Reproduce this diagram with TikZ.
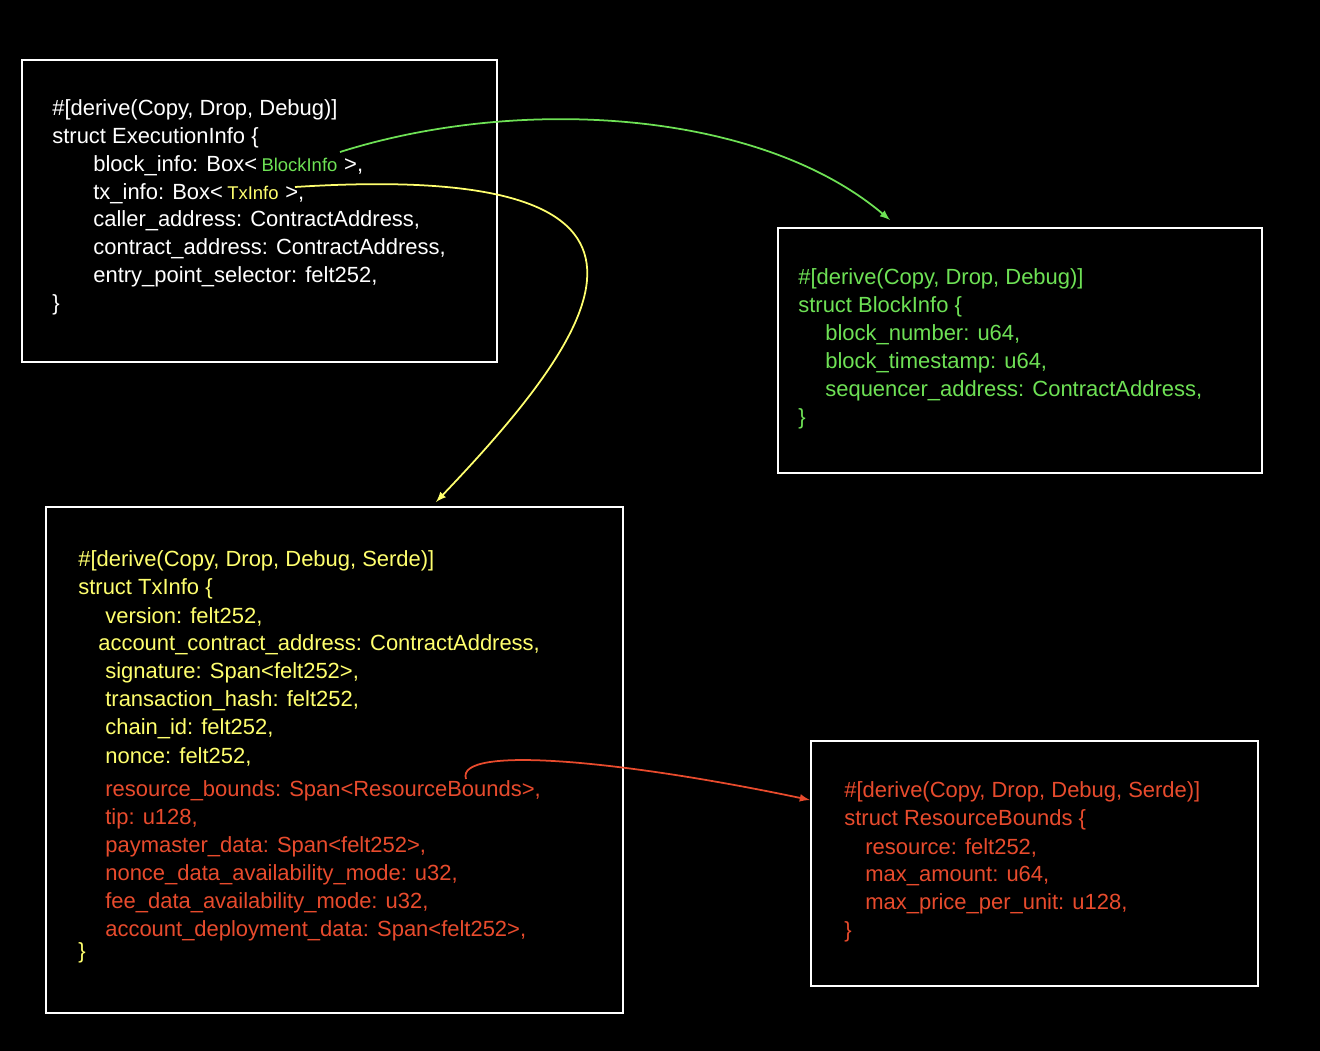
\documentclass[tikz,border=0pt]{standalone}
\usepackage{fontspec}
\setmainfont{Liberation Sans}
\usetikzlibrary{positioning}
\definecolor{codegreen}{RGB}{110,225,85}
\definecolor{codeyellow}{RGB}{255,255,110}
\definecolor{codered}{RGB}{232,75,45}
\begin{document}
\begin{tikzpicture}
	[x=0.02cm,y=-0.02cm,
	 %Styles
	 struct_box/.style={draw=white,line width=1.3pt},
	 code/.style={anchor=west,inner sep=0pt,font=\fontsize{12.5}{15}\selectfont},
	 tag/.style={anchor=base west,inner sep=0pt,font=\fontsize{10.5}{13}\selectfont},
	 link/.style={->,>=latex,line width=1pt}
	]
	\fill[black] (0,0) rectangle (1320,1051);

	%Boxes
	\draw[struct_box] (22,60) rectangle (497,362);
	\draw[struct_box] (778,228) rectangle (1262,473);
	\draw[struct_box] (46,507) rectangle (623,1013);
	\draw[struct_box] (811,741) rectangle (1258,986);

	%ExecutionInfo
	\begin{scope}[every node/.style={code,white}]
	\node (e1) at (52,110) {\#[derive(Copy, Drop, Debug)]};
	\node (e2) at (52,138) {struct ExecutionInfo \{};
	\node (e3) at (93,166) {block\_info: Box<\,};
	\node (e4) at (93,194) {tx\_info: Box<\,};
	\node (e5) at (93,221) {caller\_address: ContractAddress,};
	\node (e6) at (93,249) {contract\_address: ContractAddress,};
	\node (e7) at (93,277) {entry\_point\_selector: felt252,};
	\node (e8) at (52,305) {\}};
	\end{scope}
	\node (bi) [tag,codegreen] at (e3.base east) {BlockInfo};
	\node (bi_end) [tag,white,font=\fontsize{12.5}{15}\selectfont] at (bi.base east) {\ >,};
	\node (ti) [tag,codeyellow] at (e4.base east) {TxInfo};
	\node (ti_end) [tag,white,font=\fontsize{12.5}{15}\selectfont] at (ti.base east) {\ >,};

	%BlockInfo
	\begin{scope}[every node/.style={code,codegreen}]
	\node (b1) at (798,279) {\#[derive(Copy, Drop, Debug)]};
	\node (b2) at (798,307) {struct BlockInfo \{};
	\node (b3) at (825,335) {block\_number: u64,};
	\node (b4) at (825,363) {block\_timestamp: u64,};
	\node (b5) at (825,391) {sequencer\_address: ContractAddress,};
	\node (b6) at (798,419) {\}};
	\end{scope}

	%TxInfo
	\begin{scope}[every node/.style={code,codeyellow}]
	\node (t1) at (78,561) {\#[derive(Copy, Drop, Debug, Serde)]};
	\node (t2) at (78,589) {struct TxInfo \{};
	\node (t3) at (105,617) {version: felt252,};
	\node (t4) at (98,645) {account\_contract\_address: ContractAddress,};
	\node (t5) at (105,673) {signature: Span<felt252>,};
	\node (t6) at (105,701) {transaction\_hash: felt252,};
	\node (t7) at (105,729) {chain\_id: felt252,};
	\node (t8) at (105,757) {nonce: felt252,};
	\node (t15) at (78,953) {\}};
	\end{scope}
	\begin{scope}[every node/.style={code,codered}]
	\node (t9) at (105,791) {resource\_bounds: Span<ResourceBounds>,};
	\node (t10) at (105,819) {tip: u128,};
	\node (t11) at (105,847) {paymaster\_data: Span<felt252>,};
	\node (t12) at (105,875) {nonce\_data\_availability\_mode: u32,};
	\node (t13) at (105,903) {fee\_data\_availability\_mode: u32,};
	\node (t14) at (105,931) {account\_deployment\_data: Span<felt252>,};
	\end{scope}

	%ResourceBounds
	\begin{scope}[every node/.style={code,codered}]
	\node (r1) at (844,792) {\#[derive(Copy, Drop, Debug, Serde)]};
	\node (r2) at (844,820) {struct ResourceBounds \{};
	\node (r3) at (865,848) {resource: felt252,};
	\node (r4) at (865,876) {max\_amount: u64,};
	\node (r5) at (865,904) {max\_price\_per\_unit: u128,};
	\node (r6) at (844,932) {\}};
	\end{scope}

	%Links
	\coordinate (bi_out) at (340,152);
	\coordinate (ti_out) at (295,187);
	\coordinate (rb_out) at (466,779);
	\coordinate (block_in) at (890,220);
	\coordinate (tx_in) at (436,502);
	\coordinate (rb_in) at (810,800);
	\draw[link,codegreen] (bi_out) .. controls (520,95) and (760,110) .. (block_in);
	\draw[link,codeyellow] (ti_out) .. controls (720,160) and (600,330) .. (tx_in);
	\draw[link,codered] (rb_out) .. controls (455,745) and (620,760) .. (rb_in);

	\useasboundingbox (0,0) rectangle (1320,1051);
\end{tikzpicture}
\end{document}
